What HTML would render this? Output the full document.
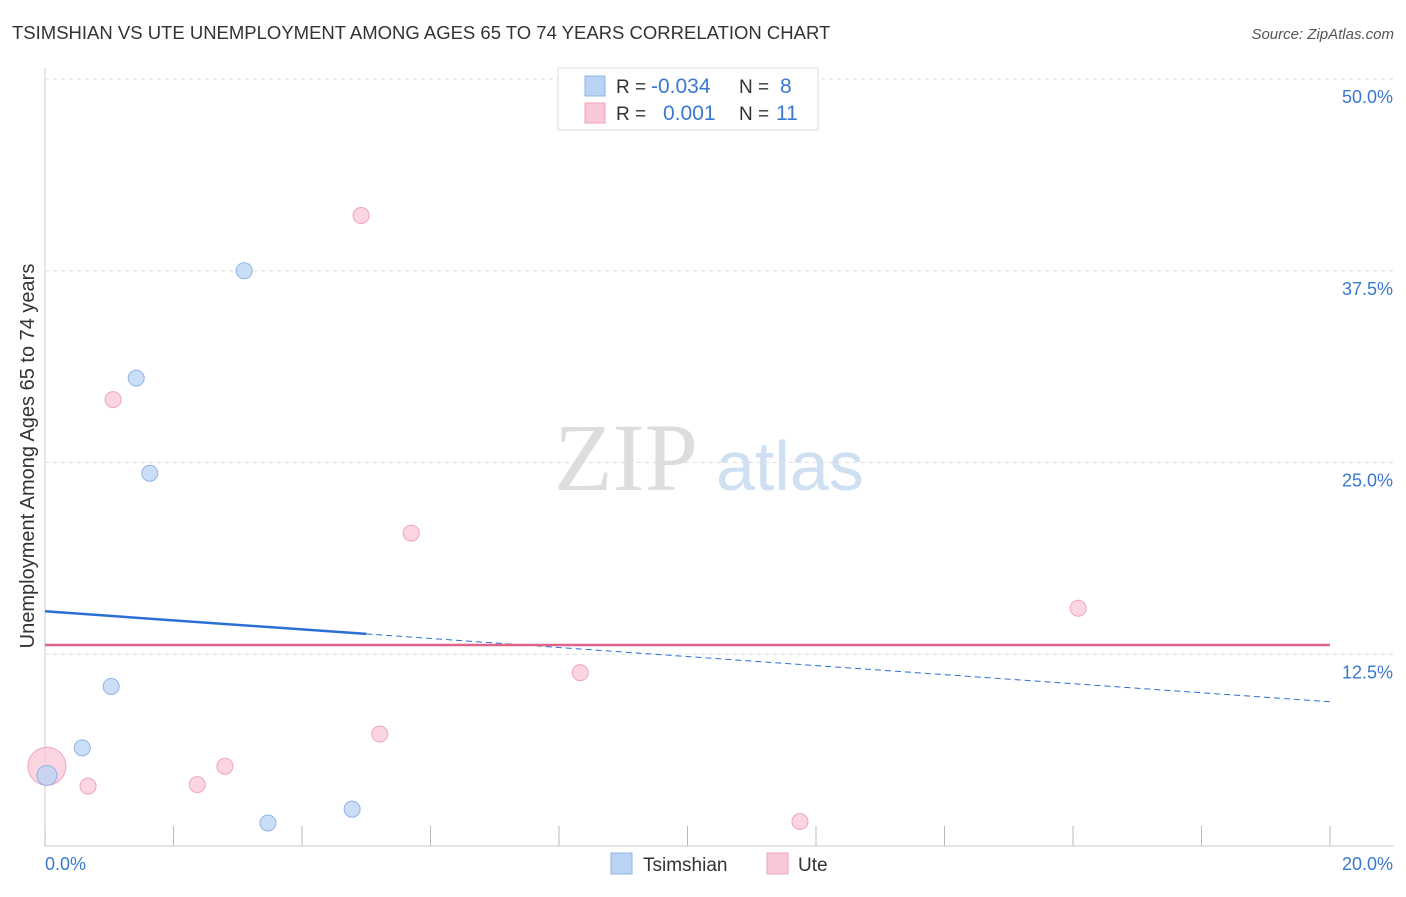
<!DOCTYPE html>
<html><head><meta charset="utf-8"><style>
body{margin:0;background:#fff;font-family:"Liberation Sans",sans-serif}
</style></head><body>
<svg id="c" width="1406" height="892" xmlns="http://www.w3.org/2000/svg" font-family="Liberation Sans, sans-serif">
<text x="12" y="39" font-size="18.5" fill="#333">TSIMSHIAN VS UTE UNEMPLOYMENT AMONG AGES 65 TO 74 YEARS CORRELATION CHART</text>
<text x="1394" y="39" font-size="15" fill="#555" font-style="italic" text-anchor="end">Source: ZipAtlas.com</text>
<text x="554" y="490" font-size="96" fill="#ddd" font-family="Liberation Serif, serif">ZIP</text>
<text x="716" y="490" font-size="70" fill="#cfe0f3">atlas</text>
<text transform="translate(34,456) rotate(-90)" font-size="20" fill="#333" text-anchor="middle">Unemployment Among Ages 65 to 74 years</text>
<g id="grid"></g><g id="marks"></g>
<g>
<rect x="558" y="68" width="260" height="62" fill="#fff" stroke="#ddd"/>
<rect x="585" y="76" width="20" height="20" fill="#b9d3f5" stroke="#8fb4e6"/>
<rect x="585" y="103" width="20" height="20" fill="#f9c8d6" stroke="#eea5bb"/>
<text x="616" y="93" font-size="19" fill="#333">R = <tspan x="651" fill="#3a78d0" font-size="21">-0.034</tspan><tspan x="739">N = </tspan><tspan x="780" fill="#3a78d0" font-size="21">8</tspan></text>
<text x="616" y="120" font-size="19" fill="#333">R = <tspan x="663" fill="#3a78d0" font-size="21">0.001</tspan><tspan x="739">N = </tspan><tspan x="776" fill="#3a78d0" font-size="21">11</tspan></text>
</g>
<g>
<rect x="611" y="853" width="21" height="21" fill="#b9d3f5" stroke="#8fb4e6"/>
<text x="643" y="871" font-size="19" fill="#333">Tsimshian</text>
<rect x="767" y="853" width="21" height="21" fill="#f9c8d6" stroke="#eea5bb"/>
<text x="798" y="871" font-size="19" fill="#333">Ute</text>
</g>
</svg>
<script>
const tsX=[0.03,0.58,1.03,1.42,1.63,3.1,3.47,4.78];
const tsY=[4.6,6.4,10.4,30.5,24.3,37.5,1.5,2.4];
const uteX=[0.03,0.67,1.06,2.37,2.8,4.92,5.21,5.7,8.33,11.75,16.08];
const uteY=[5.2,3.9,29.1,4.0,5.2,41.1,7.3,20.4,11.3,1.6,15.5];
const yTicks=[12.5,25,37.5,50];
const xTickVals=[0,2,4,6,8,10,12,14,16,18,20];
const tsTrend=[15.3,9.4];
const uteTrend=[13.1,13.1];
const X=v=>45+v*64.25, Y=v=>846-v*15.34;
const NS="http://www.w3.org/2000/svg";
function mk(p,t,a){const e=document.createElementNS(NS,t);for(const k in a)e.setAttribute(k,a[k]);p.appendChild(e);return e;}
const g=document.getElementById('grid'),m=document.getElementById('marks');
const ax=mk(g,'line',{x1:45,x2:45,y1:68,y2:846,stroke:'#ccc'});


const bx=mk(g,'line',{x1:45,x2:1394,y1:846,y2:846,stroke:'#ccc'});


yTicks.forEach(v=>{
 const l=mk(g,'line',{x1:45,x2:1394,y1:Y(v),y2:Y(v),stroke:'#ddd','stroke-dasharray':'4,4'});
 
 
 const t=mk(g,'text',{x:1393,y:Y(v)+24,'font-size':18,fill:'#3a78d0','text-anchor':'end'});
 t.textContent=v.toFixed(1)+'%';
 
 
});
xTickVals.forEach(v=>{
 const l=mk(g,'line',{x1:X(v),x2:X(v),y1:826,y2:846,stroke:'#bbb'});
 
 
});
[[0,'0.0%',45,'start'],[20,'20.0%',1393,'end']].forEach(a=>{
 const t=mk(g,'text',{x:a[2],y:870,'font-size':18,fill:'#3a78d0','text-anchor':a[3]});
 t.textContent=a[1];
 
 
});
const tsAt=x=>tsTrend[0]+(tsTrend[1]-tsTrend[0])*x/20;
const l1=mk(m,'line',{x1:X(0),y1:Y(tsAt(0)),x2:X(5),y2:Y(tsAt(5)),stroke:'#2a6fd6','stroke-width':2.5});


const l2=mk(m,'line',{x1:X(5),y1:Y(tsAt(5)),x2:X(20),y2:Y(tsAt(20)),stroke:'#2a6fd6','stroke-width':1,'stroke-dasharray':'6,4'});


const l3=mk(m,'line',{x1:X(0),y1:Y(uteTrend[0]),x2:X(20),y2:Y(uteTrend[1]),stroke:'#e0638a','stroke-width':2.5});


uteX.forEach((x,i)=>{
 const c=mk(m,'circle',{cx:X(x),cy:Y(uteY[i]),r:i===0?19:8,fill:'#f9c8d6','fill-opacity':0.75,stroke:'#eea5bb'});
 
 
});
tsX.forEach((x,i)=>{
 const c=mk(m,'circle',{cx:X(x),cy:Y(tsY[i]),r:i===0?10:8,fill:'#b9d3f5','fill-opacity':0.75,stroke:'#8fb4e6'});
 
 
});
</script>
</body></html>
